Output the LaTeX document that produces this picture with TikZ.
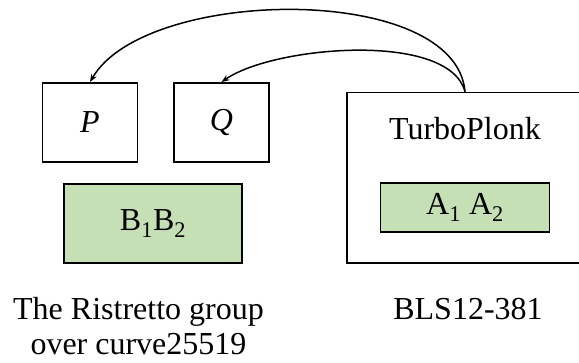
\documentclass[tikz,border=0pt]{standalone}
\usepackage{fontspec}
\setmainfont{Liberation Serif}
\usetikzlibrary{arrows.meta}
\definecolor{lightgreen}{HTML}{C5E0B4}
\begin{document}
\begin{tikzpicture}[x=1pt, y=1pt,
    every node/.style={font=\fontsize{32}{35}\selectfont},
    box/.style={draw, line width=1.8pt, inner sep=0pt},
    greenbox/.style={box, fill=lightgreen},
    link/.style={line width=1.5pt, -{Stealth[length=8pt, width=6pt]}}]
    \clip (0, 0) rectangle (579, -363);

    % left group
    \node[box, minimum width=95pt, minimum height=79pt] (p) at (90, -122.5) {\textit{P}};
    \node[box, minimum width=95pt, minimum height=79pt] (q) at (221.5, -122.5) {\textit{Q}};
    \node[greenbox, minimum width=178.5pt, minimum height=79pt] (b) at (153, -223.5)
      {B\textsubscript{1}B\textsubscript{2}};
    \node[align=center, anchor=base, inner ysep=0pt] (ristretto) at (138.5, -355)
      {The Ristretto group\\over curve25519};

    % right group
    \node[box, minimum width=236pt, minimum height=170.5pt] (turbo) at (465, -177.75) {};
    \node[anchor=base] (turbolabel) at (465, -140) {TurboPlonk};
    \node[greenbox, minimum width=169pt, minimum height=48.5pt] (a) at (465, -207.5)
      {A\textsubscript{1} A\textsubscript{2}};
    \node[anchor=base] (bls) at (468, -320) {BLS12-381};

    % arrows
    \coordinate (src) at (turbo.north);
    \draw[link] (src) to[out=95, in=60, looseness=0.75] (p.north);
    \draw[link] (src) to[out=105, in=35, looseness=0.66] (q.north);
  \end{tikzpicture}
\end{document}
